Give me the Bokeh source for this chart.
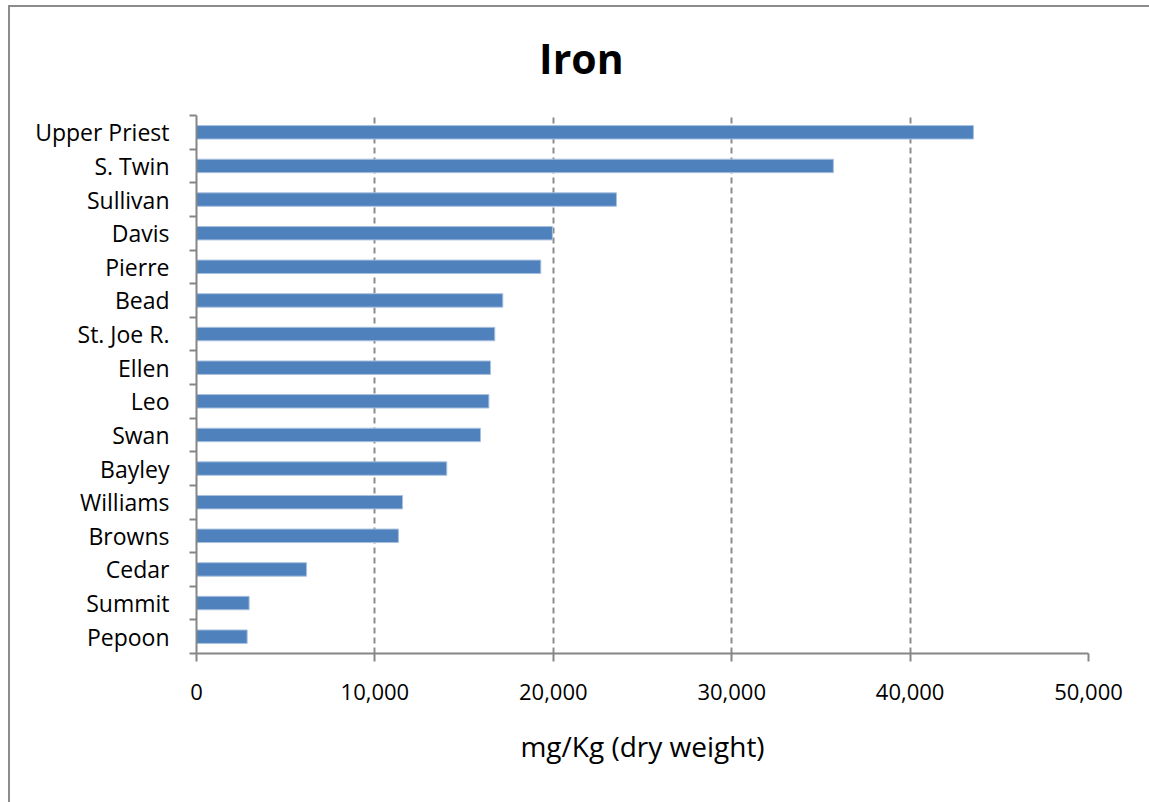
from bokeh.plotting import figure
from bokeh.layouts import column
from bokeh.models import FixedTicker, NumeralTickFormatter, Range1d, ColumnDataSource
from bokeh.core.properties import value
from bokeh.embed import file_html
from bokeh.resources import INLINE

lakes = ["Upper Priest", "S. Twin", "Sullivan", "Davis", "Pierre", "Bead", "St. Joe R.",
         "Ellen", "Leo", "Swan", "Bayley", "Williams", "Browns", "Cedar", "Summit", "Pepoon"]
iron = [43550, 35700, 23540, 19950, 19300, 17170, 16720, 16480, 16390, 15920, 14030,
        11550, 11320, 6170, 2950, 2840]
x_ticks = [0, 10000, 20000, 30000, 40000, 50000]
title_text = "Iron"

n = len(lakes)
ypos = [n - i - 0.5 for i in range(n)]
src = ColumnDataSource(dict(y=ypos, v=iron, name=lakes))

FONT = "Open Sans"
GRAY = "#868686"
W = 1141
TH = 100
LEFT = 186
FW = 892

# title strip (its own small figure; x range in canvas pixels, frame aligned with the chart frame)
t = figure(width=W, height=TH, output_backend="svg", toolbar_location=None,
           x_range=Range1d(LEFT, LEFT + FW), y_range=Range1d(0, TH),
           min_border=0, x_axis_type=None, y_axis_type=None)
t.outline_line_color = None
t.grid.visible = False
t.text(x=[570], y=[TH - 50], text=[title_text], text_align="center", text_baseline="middle",
       text_font=value(FONT), text_font_size="41px", text_font_style="bold", text_color="black")

p = figure(width=W, height=794 - TH, output_backend="svg", toolbar_location=None,
           x_range=Range1d(0, 50000), y_range=Range1d(0, n),
           min_border_left=LEFT, min_border_right=61, min_border_top=8, min_border_bottom=149)
p.frame_width = FW
p.frame_height = 538
p.outline_line_color = None
p.background_fill_color = "white"
p.border_fill_color = "white"

p.hbar(y="y", right="v", left=0, height=0.4, source=src,
       fill_color="#4F81BD", line_color="#A9C1E0", line_width=1)

# x axis
p.xaxis.ticker = FixedTicker(ticks=x_ticks)
p.xaxis.formatter = NumeralTickFormatter(format="0,0")
p.xaxis.axis_line_color = GRAY
p.xaxis.axis_line_width = 2
p.xaxis.major_tick_line_color = GRAY
p.xaxis.major_tick_line_width = 2
p.xaxis.major_tick_out = 8
p.xaxis.major_tick_in = 0
p.xaxis.minor_tick_line_color = None
p.xaxis.major_label_text_font = FONT
p.xaxis.major_label_text_font_size = "22px"
p.xaxis.major_label_text_color = "black"
p.xaxis.major_label_standoff = 22
p.xaxis.axis_label = "mg/Kg (dry weight)"
p.xaxis.axis_label_text_font = FONT
p.xaxis.axis_label_text_font_size = "28px"
p.xaxis.axis_label_text_font_style = "normal"
p.xaxis.axis_label_text_color = "black"
p.xaxis.axis_label_standoff = 24

# y axis
boundaries = [float(i) for i in range(n + 1)]
p.yaxis.ticker = FixedTicker(ticks=ypos, minor_ticks=boundaries)
p.yaxis.major_label_overrides = {y: name for y, name in zip(ypos, lakes)}
p.yaxis.axis_line_color = GRAY
p.yaxis.axis_line_width = 2
p.yaxis.major_tick_line_color = None
p.yaxis.major_tick_out = 0
p.yaxis.major_tick_in = 0
p.yaxis.minor_tick_line_color = GRAY
p.yaxis.minor_tick_line_width = 2
p.yaxis.minor_tick_out = 7
p.yaxis.minor_tick_in = 0
p.yaxis.major_label_text_font = FONT
p.yaxis.major_label_text_font_size = "23px"
p.yaxis.major_label_text_color = "black"
p.yaxis.major_label_standoff = 20

# grids
p.ygrid.grid_line_color = None
p.xgrid.ticker = FixedTicker(ticks=x_ticks[1:])
p.xgrid.grid_line_color = "#8c8c8c"
p.xgrid.grid_line_width = 2
p.xgrid.grid_line_dash = "6 4"

layout = column(t, p, spacing=0)
layout.styles = {"border-left": "2px solid #8c8c8c", "border-top": "2px solid #8c8c8c",
                 "margin-left": "8px", "margin-top": "5px"}

open("out.html", "w").write(file_html(layout, INLINE))
